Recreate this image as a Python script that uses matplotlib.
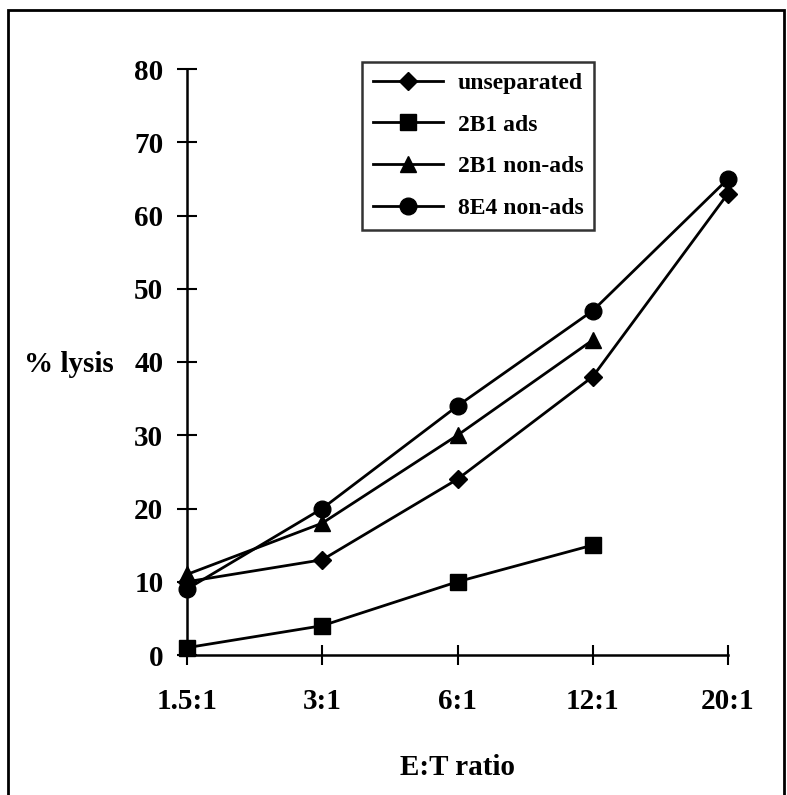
import numpy as np
import matplotlib
matplotlib.use("Agg")
from matplotlib import pyplot as plt
from matplotlib.patches import Rectangle

ratios = ["1.5:1", "3:1", "6:1", "12:1", "20:1"]
unseparated = [10, 13, 24, 38, 63]
b2b1_ads = [1, 4, 10, 15, np.nan]
b2b1_nonads = [11, 18, 30, 43, np.nan]
e8e4_nonads = [9, 20, 34, 47, 65]
y_ticks = [0, 10, 20, 30, 40, 50, 60, 70, 80]

plt.rcParams['font.family'] = ['Liberation Serif', 'DejaVu Serif']
plt.rcParams['font.weight'] = 'bold'

fig = plt.figure(figsize=(7.87, 7.95), dpi=100)
ax = fig.add_axes([187/787, 1 - 655/795, (728 - 187)/787, (655 - 69)/795])

x = np.arange(len(ratios))
kw = dict(color='black', lw=2.0, clip_on=False)
ax.plot(x, unseparated, marker='D', ms=9, label='unseparated', **kw)
ax.plot(x, b2b1_ads, marker='s', ms=12, label='2B1 ads', **kw)
ax.plot(x, b2b1_nonads, marker='^', ms=12, label='2B1 non-ads', **kw)
ax.plot(x, e8e4_nonads, marker='o', ms=12, label='8E4 non-ads', **kw)

ax.set_xlim(0, len(ratios) - 1)
ax.set_ylim(0, 80)
ax.set_xticks(x)
ax.set_xticklabels(ratios)
ax.set_yticks(y_ticks)
for s in ['top', 'right']:
    ax.spines[s].set_visible(False)
for s in ['left', 'bottom']:
    ax.spines[s].set_linewidth(1.8)
ax.tick_params(direction='inout', length=14, width=1.5, labelsize=21, pad=10)
ax.tick_params(axis='x', pad=17)

ax.set_xlabel('E:T ratio', fontsize=21, fontweight='bold', labelpad=28)
fig.text(24/787, 1 - 365/795, '% lysis', fontsize=21, fontweight='bold', va='center')

leg = ax.legend(loc='upper left', bbox_to_anchor=((362 - 187)/541, 1.012),
                borderaxespad=0, frameon=True, fancybox=False, edgecolor='black',
                handlelength=3.0, labelspacing=0.85, borderpad=0.45,
                handletextpad=0.6, prop={'weight': 'bold', 'size': 17})
leg.get_frame().set_linewidth(1.8)

fig.patches.append(Rectangle((8/787, -0.01), (784 - 8)/787, 1 - 10/795 + 0.01,
                             transform=fig.transFigure, fill=False,
                             edgecolor='black', lw=2))

fig.savefig('out.png', dpi=100)
